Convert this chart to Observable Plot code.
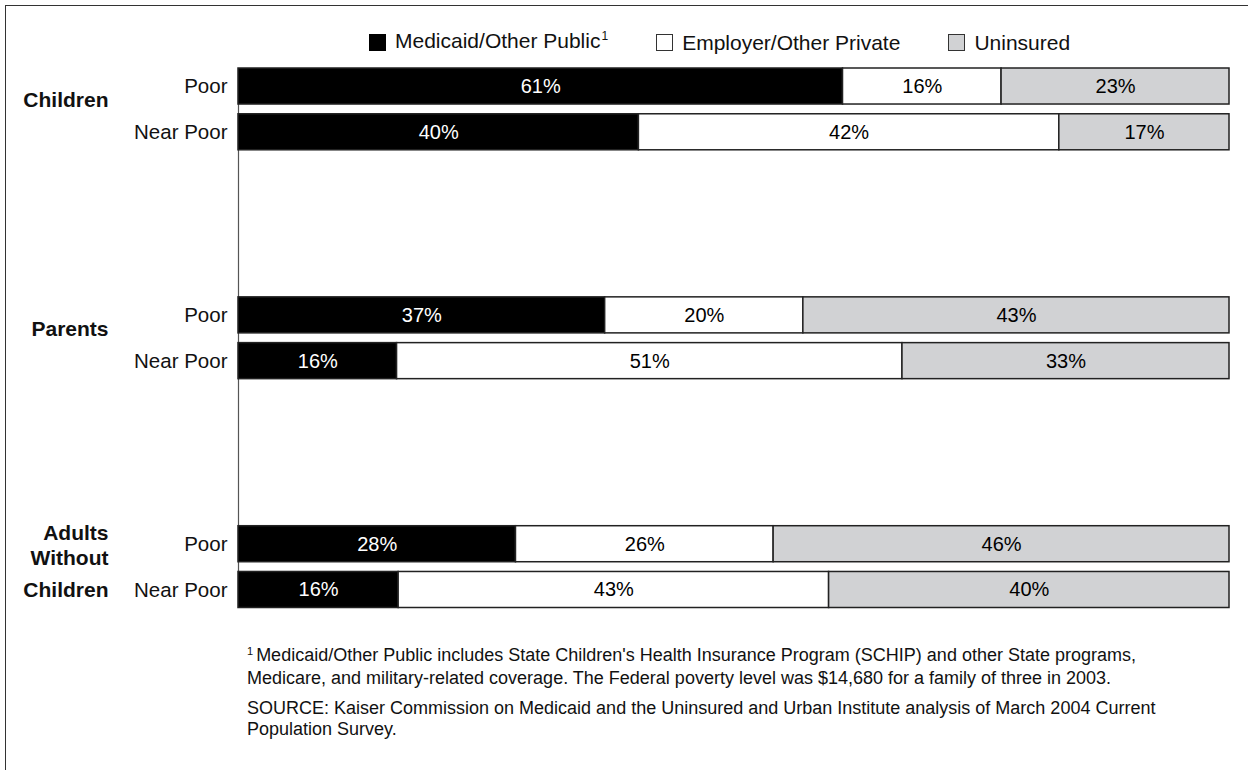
<!DOCTYPE html>
<html>
<head>
<meta charset="utf-8">
<script src="https://cdn.jsdelivr.net/npm/d3@7"></script>
<script src="https://cdn.jsdelivr.net/npm/@observablehq/plot@0.6"></script>
<style>
  html, body { margin: 0; padding: 0; background: #fff; }
  body { width: 1248px; height: 770px; overflow: hidden; position: relative;
         font-family: "Liberation Sans", Arial, Helvetica, sans-serif; color: #111; }
  #frame { position: absolute; left: 5px; top: 5px; width: 1400px; height: 900px;
           border-left: 1.5px solid #333; border-top: 1.5px solid #333; }
  #legend { position: absolute; left: 369px; top: 29px; display: flex; align-items: center;
            font-size: 21px; line-height: 24px; }
  .item { display: flex; align-items: center; margin-right: 48px; }
  .item:last-child { margin-right: 0; }
  .swatch { width: 17px; height: 17px; box-sizing: border-box; border: 1.5px solid #333; margin-right: 9px; }
  sup { font-size: 12px; vertical-align: 0; position: relative; top: -8px; margin-left: 1px; }
  #chart { position: absolute; left: 0; top: 58px; }
  #notes { position: absolute; left: 247px; top: 645px; font-size: 18px; line-height: 21px; width: 1000px; }
  #notes p { margin: 0 0 9px 0; }
  #notes sup { font-size: 11px; top: -6px; margin-right: 3px; margin-left: 0; }
</style>
</head>
<body>
<div id="frame"></div>
<div id="legend"></div>
<div id="chart"></div>
<div id="notes">
  <p><sup>1</sup>Medicaid/Other Public includes State Children's Health Insurance Program (SCHIP) and other State programs,<br>Medicare, and military-related coverage. The Federal poverty level was $14,680 for a family of three in 2003.</p>
  <p>SOURCE: Kaiser Commission on Medicaid and the Uninsured and Urban Institute analysis of March 2004 Current<br>Population Survey.</p>
</div>
<script>
// Population groups and income levels (rows), coverage types (stacked segments)
const groups = ["Children", "Parents", "Adults Without Children"];
const incomeLevels = ["Poor", "Near Poor"];
const coverageTypes = ["Medicaid/Other Public", "Employer/Other Private", "Uninsured"];
const coverageColors = ["#000000", "#ffffff", "#d1d2d4"];

// Percent shares, one value per row: Children Poor, Children Near Poor, Parents Poor, ...
const medicaidShare = [61, 40, 37, 16, 28, 16];
const employerShare = [16, 42, 20, 51, 26, 43];
const uninsuredShare = [23, 17, 43, 33, 46, 40];
const shares = [medicaidShare, employerShare, uninsuredShare];

// Row keys, with empty slots between groups to open up the vertical spacing
const rowKeys = groups.flatMap(g => incomeLevels.map(l => `${g}|${l}`));
const yDomain = [];
groups.forEach((g, i) => {
  if (i > 0) for (let s = 0; s < 3; s++) yDomain.push(`gap-${i}-${s}`);
  incomeLevels.forEach(l => yDomain.push(`${g}|${l}`));
});

const data = rowKeys.flatMap((key, i) =>
  coverageTypes.map((series, j) => ({key, series, value: shares[j][i]}))
);

// Legend
const legend = document.getElementById("legend");
coverageTypes.forEach((name, j) => {
  const item = document.createElement("div");
  item.className = "item";
  const sw = document.createElement("div");
  sw.className = "swatch";
  sw.style.background = coverageColors[j];
  if (j === 0) sw.style.borderColor = "#000";
  const label = document.createElement("span");
  label.innerHTML = j === 0 ? `${name}<sup>1</sup>` : name;
  item.append(sw, label);
  legend.append(item);
});

// Group label lines: single-word groups sit between their two rows,
// the long group is split into one word per line
const groupLabel = (g) => g.split(" ");
const boldText = {fontWeight: "bold", fontSize: 21, frameAnchor: "left", textAnchor: "end", dx: -130, fill: "#111"};
const groupMarks = groups.flatMap(g => {
  const words = groupLabel(g);
  if (words.length === 1) {
    return [Plot.text([g], {...boldText, y: d => `${d}|${incomeLevels[0]}`, text: d => d, dy: 14})];
  }
  return [
    Plot.text([words[0]], {...boldText, y: () => `${g}|${incomeLevels[0]}`, text: d => d, dy: -11}),
    Plot.text([words[1]], {...boldText, y: () => `${g}|${incomeLevels[0]}`, text: d => d, dy: 14}),
    Plot.text([words[2]], {...boldText, y: () => `${g}|${incomeLevels[1]}`, text: d => d, dy: 0})
  ];
});

const chart = Plot.plot({
  width: 1248,
  height: 561,
  marginTop: 10,
  marginBottom: 11.5,
  marginLeft: 238,
  marginRight: 19,
  style: {fontFamily: "'Liberation Sans', Arial, Helvetica, sans-serif", fontSize: "20.5px", color: "#111", background: "transparent"},
  x: {domain: [0, 1], axis: null},
  y: {
    domain: yDomain,
    paddingInner: 0.213,
    paddingOuter: 0,
    round: false,
    tickSize: 0,
    tickPadding: 11,
    tickFormat: k => k.includes("|") ? k.split("|")[1] : "",
    label: null
  },
  color: {domain: coverageTypes, range: coverageColors},
  marks: [
    Plot.ruleX([0], {stroke: "#555", strokeWidth: 1.2}),
    Plot.barX(data, Plot.stackX({
      offset: "normalize", x: "value", y: "key", z: "series",
      fill: "series", stroke: "#222", strokeWidth: 1.5
    })),
    Plot.text(data, Plot.stackX({
      offset: "normalize", x: "value", y: "key", z: "series",
      text: d => `${d.value}%`,
      fill: d => d.series === coverageTypes[0] ? "#ffffff" : "#000000",
      fontSize: 20
    })),
    ...groupMarks
  ]
});
document.getElementById("chart").append(chart);
</script>
</body>
</html>
